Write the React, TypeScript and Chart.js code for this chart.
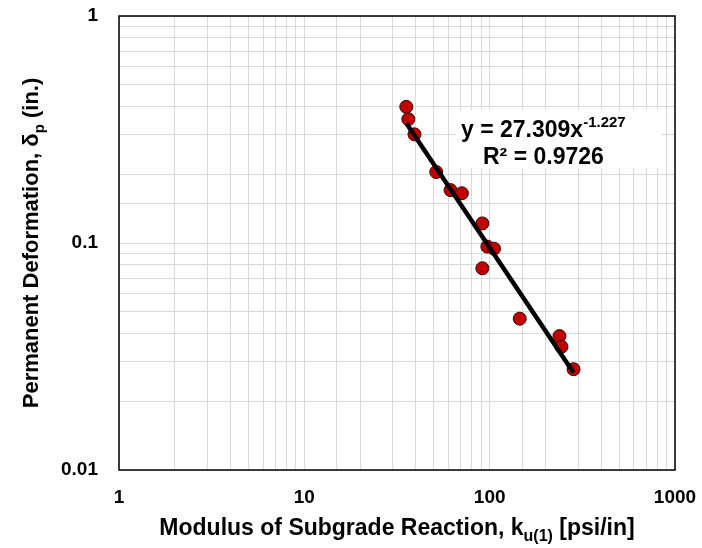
import React, { useEffect, useRef } from "react";
import { Chart, registerables } from "chart.js";

Chart.register(...registerables);

// Data
const modulusK = [35.5, 36.4, 39.3, 51.5, 61.5, 70.8, 91.3, 97.2, 105.5, 91.3, 145.3, 238, 244, 283.5];
const deformation = [0.398, 0.351, 0.301, 0.2055, 0.171, 0.1656, 0.122, 0.0964, 0.0944, 0.0774, 0.0464, 0.0389, 0.0349, 0.0278];
const trendX = [35.5, 283.5];
const trendY = [0.337, 0.0268];
const xTickLabels = ["1", "10", "100", "1000"];
const yTickLabels = ["0.01", "0.1", "1"];
const equationLine1 = "y = 27.309x";
const equationExp = "-1.227";
const equationLine2 = "R² = 0.9726";

const FONT = "'Liberation Sans', Arial, sans-serif";

type Seg = { t: string; sub?: boolean; sup?: boolean };

function drawRich(ctx: CanvasRenderingContext2D, segs: Seg[], x: number, y: number, size: number, align: "left" | "center", small = 0.68) {
  const big = `bold ${size}px ${FONT}`;
  const sm = `bold ${Math.round(size * small)}px ${FONT}`;
  let total = 0;
  for (const s of segs) {
    ctx.font = s.sub || s.sup ? sm : big;
    total += ctx.measureText(s.t).width;
  }
  let cx = align === "center" ? x - total / 2 : x;
  ctx.textBaseline = "alphabetic";
  ctx.textAlign = "left";
  for (const s of segs) {
    ctx.font = s.sub || s.sup ? sm : big;
    const dy = s.sub ? size * 0.28 : s.sup ? -size * 0.42 : 0;
    ctx.fillText(s.t, cx, y + dy);
    cx += ctx.measureText(s.t).width;
  }
}

const decorPlugin = {
  id: "decor",
  beforeDatasetsDraw(chart: any) {
    const { ctx, chartArea } = chart;
    ctx.save();
    ctx.strokeStyle = "#000";
    ctx.lineWidth = 1.5;
    ctx.strokeRect(chartArea.left, chartArea.top, chartArea.right - chartArea.left, chartArea.bottom - chartArea.top);
    ctx.restore();
  },
  afterDatasetsDraw(chart: any) {
    const { ctx } = chart;
    ctx.save();
    ctx.fillStyle = "#fff";
    ctx.fillRect(456, 110, 206, 58);
    ctx.fillStyle = "#000";
    drawRich(ctx, [{ t: equationLine1 }, { t: equationExp, sup: true }], 461, 137, 23, "left", 0.65);
    drawRich(ctx, [{ t: equationLine2 }], 483, 164, 23, "left");
    ctx.restore();
  },
  afterDraw(chart: any) {
    const { ctx, chartArea } = chart;
    ctx.save();
    ctx.fillStyle = "#000";
    const cx = (chartArea.left + chartArea.right) / 2;
    drawRich(ctx, [
      { t: "Modulus of Subgrade Reaction, k" },
      { t: "u(1)", sub: true },
      { t: " [psi/in]" },
    ], cx, 535, 23, "center");
    const cy = (chartArea.top + chartArea.bottom) / 2;
    ctx.translate(38, cy);
    ctx.rotate(-Math.PI / 2);
    drawRich(ctx, [
      { t: "Permanent Deformation, δ" },
      { t: "p", sub: true },
      { t: " (in.)" },
    ], 0, 0, 22, "center");
    ctx.restore();
  },
};

function labelFor(value: number, labels: string[]) {
  const l = Math.log10(value);
  if (Math.abs(l - Math.round(l)) > 1e-6) return "";
  const found = labels.find((s) => Math.abs(parseFloat(s) - value) / value < 1e-6);
  return found ?? "";
}

export default function App() {
  const ref = useRef<HTMLCanvasElement>(null);
  useEffect(() => {
    if (!ref.current) return;
    const chart = new Chart(ref.current, {
      type: "scatter",
      data: {
        datasets: [
          {
            type: "line",
            data: trendX.map((x, i) => ({ x, y: trendY[i] })),
            borderColor: "#000",
            borderWidth: 4.5,
            pointRadius: 0,
            showLine: true,
            fill: false,
            order: 0,
          } as any,
          {
            data: modulusK.map((x, i) => ({ x, y: deformation[i] })),
            backgroundColor: "#C00000",
            borderColor: "#3a0000",
            borderWidth: 1,
            pointRadius: 6.5,
            order: 1,
          },
        ],
      },
      options: {
        animation: false,
        responsive: false,
        devicePixelRatio: 1,
        layout: { padding: { top: 16, right: 27, left: 0, bottom: 0 } },
        plugins: { legend: { display: false }, tooltip: { enabled: false } },
        scales: {
          x: {
            type: "logarithmic",
            min: 1,
            max: 1000,
            border: { display: false },
            grid: { color: "#d9d9d9", lineWidth: 1, drawTicks: false },
            ticks: {
              autoSkip: false,
              maxRotation: 0,
              padding: 16,
              color: "#000",
              font: { family: FONT, size: 19, weight: "bold" },
              callback: (v: any) => labelFor(Number(v), xTickLabels),
            },
            afterFit: (s: any) => {
              s.height = 78;
              s.paddingLeft = 0;
              s.paddingRight = 0;
              s.paddingTop = 0;
              s.paddingBottom = 0;
            },
          },
          y: {
            type: "logarithmic",
            min: 0.01,
            max: 1,
            border: { display: false },
            grid: { color: "#d9d9d9", lineWidth: 1, drawTicks: false },
            ticks: {
              autoSkip: false,
              padding: 21,
              color: "#000",
              font: { family: FONT, size: 19, weight: "bold" },
              callback: (v: any) => labelFor(Number(v), yTickLabels),
            },
            afterFit: (s: any) => {
              s.width = 119;
              s.paddingLeft = 0;
              s.paddingRight = 0;
              s.paddingTop = 0;
              s.paddingBottom = 0;
            },
          },
        },
      } as any,
      plugins: [decorPlugin],
    });
    return () => chart.destroy();
  }, []);
  return (
    <div style={{ position: "fixed", left: 0, top: 0, width: 702, height: 548, background: "#fff" }}>
      <canvas ref={ref} width={702} height={548} style={{ width: 702, height: 548 }} />
    </div>
  );
}
